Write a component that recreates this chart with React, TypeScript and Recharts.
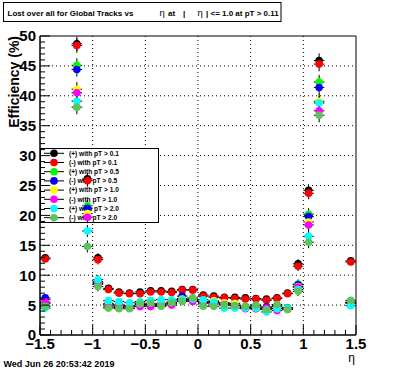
import { ScatterChart, Scatter, XAxis, YAxis, CartesianGrid, ErrorBar, ReferenceArea, Customized } from 'recharts';

// bin centres in eta
const etaBins = [-1.45, -1.15, -1.05, -0.95, -0.85, -0.75, -0.65, -0.55, -0.45, -0.35, -0.25, -0.15, -0.05,
  0.05, 0.15, 0.25, 0.35, 0.45, 0.55, 0.65, 0.75, 0.85, 0.95, 1.05, 1.15, 1.45];

const posPt01 = [12.9, 48.7, 26.1, 12.9, 7.8, 7.2, 7.0, 7.2, 7.4, 7.4, 7.3, 7.6, 7.6, 6.7, 6.5, 6.3, 6.3, 6.2, 6.1, 6.0, 6.2, 7.0, 11.9, 24.2, 45.9, 12.4];
const negPt01 = [12.7, 48.4, 25.8, 12.6, 7.6, 7.0, 6.9, 6.9, 7.2, 7.2, 7.1, 7.5, 7.5, 6.5, 6.3, 6.2, 6.1, 6.0, 6.0, 5.8, 6.1, 6.9, 11.5, 23.7, 45.3, 12.2];
const posPt05 = [5.9, 45.1, 21.6, 8.8, 5.0, 5.0, 4.8, 5.35, 5.1, 5.2, 5.3, 6.1, 5.7, 5.6, 5.6, 5.3, 5.3, 4.6, 4.9, 4.6, 4.9, 4.6, 8.5, 20.2, 42.3, 5.5];
const negPt05 = [6.2, 44.4, 21.2, 8.9, 5.3, 5.0, 4.9, 5.1, 5.0, 5.2, 5.5, 6.5, 5.9, 5.4, 5.5, 5.2, 5.0, 4.7, 4.7, 4.7, 4.8, 4.5, 8.4, 19.8, 41.4, 5.4];
const posPt10 = [5.3, 41.1, 20.3, 8.6, 5.1, 4.8, 4.7, 5.0, 4.9, 5.1, 5.2, 6.0, 5.8, 5.5, 5.7, 5.4, 5.2, 4.5, 4.3, 4.4, 4.5, 4.4, 8.1, 18.9, 39.1, 5.3];
const negPt10 = [5.5, 40.5, 19.7, 8.5, 4.7, 4.6, 4.5, 4.75, 4.75, 4.9, 5.0, 5.8, 5.6, 5.3, 5.2, 5.1, 4.9, 4.4, 4.4, 4.5, 4.1, 4.3, 8.0, 18.4, 37.5, 5.4];
const posPt20 = [4.5, 39.1, 17.4, 9.25, 5.75, 5.6, 5.4, 5.6, 5.8, 5.9, 5.9, 5.9, 6.0, 5.9, 5.5, 4.5, 4.5, 4.5, 4.5, 3.85, 4.4, 4.5, 7.6, 16.5, 38.8, 4.9];
const negPt20 = [4.8, 38.1, 14.8, 8.1, 4.5, 4.4, 4.4, 5.2, 5.3, 4.8, 5.4, 5.6, 6.2, 4.8, 4.8, 5.0, 4.9, 4.8, 5.0, 4.25, 5.1, 4.25, 7.3, 15.5, 36.75, 5.8];

// vertical errors per bin (roughly the same for every series)
const effErr = [0.5, 1.2, 1.0, 0.8, 0.4, 0.3, 0.3, 0.3, 0.3, 0.3, 0.3, 0.3, 0.3, 0.3, 0.3, 0.3, 0.3, 0.3, 0.3, 0.3, 0.3, 0.4, 0.8, 1.0, 1.2, 0.5];
const binHalfWidth = 0.05;

const seriesNames = ['(+) with pT > 0.1', '(-) with pT > 0.1', '(+) with pT > 0.5', '(-) with pT > 0.5',
  '(+) with pT > 1.0', '(-) with pT > 1.0', '(+) with pT > 2.0', '(-) with pT > 2.0'];
const seriesValues = [posPt01, negPt01, posPt05, negPt05, posPt10, negPt10, posPt20, negPt20];
const seriesColors = ['#000000', '#ff0000', '#00ff00', '#0000ff', '#ffff00', '#ff00ff', '#00ffff', '#5cc45c'];

const xMajor = [-1.5, -1, -0.5, 0, 0.5, 1, 1.5];
const xTicks = [-1.5, -1.4, -1.3, -1.2, -1.1, -1, -0.9, -0.8, -0.7, -0.6, -0.5, -0.4, -0.3, -0.2, -0.1, 0,
  0.1, 0.2, 0.3, 0.4, 0.5, 0.6, 0.7, 0.8, 0.9, 1, 1.1, 1.2, 1.3, 1.4, 1.5];
const yMajor = [0, 5, 10, 15, 20, 25, 30, 35, 40, 45, 50];
const yTicks = Array.from({ length: 51 }, (_, i) => i);

const FONT = '"Liberation Sans", Arial, Helvetica, sans-serif';

const isMajorX = (v: number) => xMajor.some((m) => Math.abs(m - v) < 1e-6);
const fmtX = (v: number) => (v < 0 ? '\u2212' + String(-v) : String(v));

function XTick(props: any) {
  const { x, y, payload } = props;
  const major = isMajorX(payload.value);
  return (
    <g>
      <line x1={x} x2={x} y1={y} y2={y - (major ? 10 : 5)} stroke="#000" />
      {major && (
        <text x={x} y={y + 3} dy="0.71em" textAnchor="middle" fontFamily={FONT} fontWeight="bold" fontSize={15} fill="#000">
          {fmtX(payload.value)}
        </text>
      )}
    </g>
  );
}

function YTick(props: any) {
  const { x, y, payload } = props;
  const major = yMajor.includes(payload.value);
  return (
    <g>
      <line x1={x} x2={x + (major ? 10 : 5)} y1={y} y2={y} stroke="#000" />
      {major && (
        <text x={x - 4} y={y} dy="0.36em" textAnchor="end" fontFamily={FONT} fontWeight="bold" fontSize={15} fill="#000">
          {payload.value}
        </text>
      )}
    </g>
  );
}

function LegendBox() {
  return (
    <g>
      <rect x={40.5} y={148.5} width={118} height={74} fill="#fff" stroke="#000" />
      {seriesNames.map((name, i) => {
        const y = 153.3 + i * 9.2;
        return (
          <g key={name}>
            <line x1={44} x2={64} y1={y} y2={y} stroke="#000" />
            <circle cx={54} cy={y} r={3.8} fill={seriesColors[i]} />
            <text x={69} y={y} dy="0.35em" fontFamily={FONT} fontWeight="bold" fontSize={6.6} fill="#000">{name}</text>
          </g>
        );
      })}
    </g>
  );
}

function Decorations() {
  return (
    <g fontFamily={FONT} fill="#000">
      <rect x={3.5} y={2.5} width={277.5} height={19} fill="#fff" stroke="#000" />
      <text x={7.5} y={16} fontSize={8} fontWeight="bold">Lost over all for Global Tracks vs</text>
      <text x={159.5} y={16} fontSize={9.5}>η</text>
      <text x={168} y={16} fontSize={8} fontWeight="bold">at</text>
      <text x={183} y={16} fontSize={8} fontWeight="bold">|</text>
      <text x={197.5} y={16} fontSize={9.5}>η</text>
      <text x={206} y={16} fontSize={8} fontWeight="bold">| &lt;= 1.0 at pT &gt; 0.11</text>
      <text transform="translate(19,36) rotate(-90)" textAnchor="end" fontSize={14} fontWeight="bold">Efficiency (%)</text>
      <text x={355} y={362} textAnchor="end" fontSize={12}>η</text>
      <text x={3.5} y={367} fontSize={9} fontWeight="bold">Wed Jun 26 20:53:42 2019</text>
    </g>
  );
}

const dot = (color: string) => (p: any) => <circle cx={p.cx} cy={p.cy} r={3.8} fill={color} />;

export default function App() {
  return (
    <div style={{ position: 'absolute', left: 0, top: 0, width: 396, height: 372, background: '#fff' }}>
      <ScatterChart width={396} height={372} margin={{ top: 36, right: 40, bottom: 36, left: 39 }}>
        <CartesianGrid stroke="#000" strokeDasharray="1 3" horizontalValues={yMajor.slice(1, -1)} verticalValues={xMajor.slice(1, -1)} />
        <XAxis type="number" dataKey="eta" domain={[-1.5, 1.5]} ticks={xTicks} interval={0} tickSize={0} tickMargin={0}
          height={1} tick={<XTick />} tickLine={false} axisLine={{ stroke: '#000' }} allowDataOverflow />
        <YAxis type="number" dataKey="eff" domain={[0, 50]} ticks={yTicks} interval={0} tickSize={0} tickMargin={0}
          width={1} tick={<YTick />} tickLine={false} axisLine={{ stroke: '#000' }} allowDataOverflow />
        <ReferenceArea x1={-1.5} x2={1.5} y1={0} y2={50} fill="none" stroke="#000" />
        <Customized component={<LegendBox />} />
        {seriesValues.map((vals, s) => (
          <Scatter key={seriesNames[s]} name={seriesNames[s]} isAnimationActive={false}
            data={etaBins.map((eta, i) => ({ eta, eff: vals[i], ex: binHalfWidth, ey: effErr[i] }))}
            shape={dot(seriesColors[s])}>
            <ErrorBar dataKey="ex" direction="x" width={0} stroke="#000" strokeWidth={1} />
            <ErrorBar dataKey="ey" direction="y" width={0} stroke="#000" strokeWidth={1} />
          </Scatter>
        ))}
        <Customized component={<Decorations />} />
      </ScatterChart>
    </div>
  );
}
